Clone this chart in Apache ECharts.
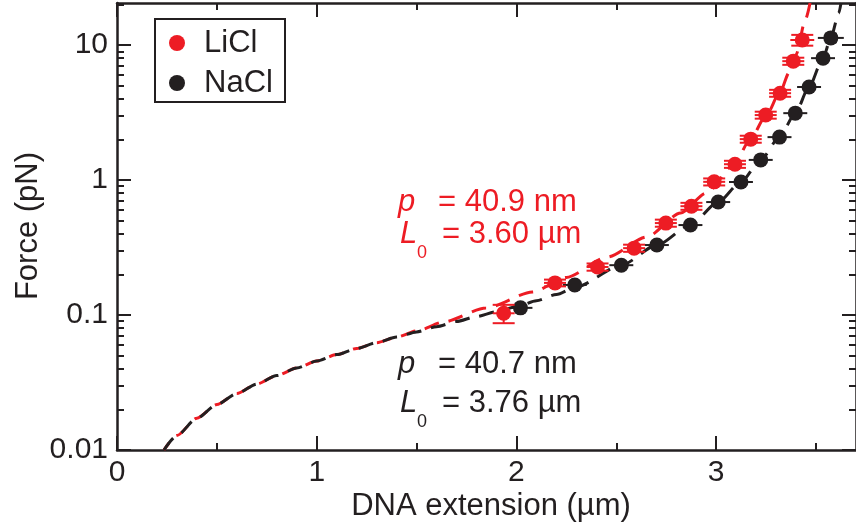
<!DOCTYPE html>
<html>
<head>
<meta charset="utf-8">
<script src="https://cdn.jsdelivr.net/npm/echarts@6/dist/echarts.min.js"></script>
<style>
  html, body { margin: 0; padding: 0; background: #ffffff; }
  #chart { width: 856px; height: 531px; }
</style>
</head>
<body>
<div id="chart"></div>
<script>
// Force–extension curves of DNA in LiCl and NaCl, with worm-like-chain fits.
const FONT = '"Liberation Sans", Arial, Helvetica, sans-serif';
const RED = '#ED1C24';
const BLACK = '#231F20';

// LiCl measurements: extension (µm), force (pN) and their errors
const liclExt      = [1.936, 2.193, 2.406, 2.589, 2.748, 2.876, 2.990, 3.094, 3.173, 3.248, 3.320, 3.386, 3.431];
const liclForce    = [0.103, 0.173, 0.227, 0.313, 0.480, 0.640, 0.970, 1.310, 2.010, 3.030, 4.400, 7.600, 10.90];
const liclExtErr   = [0.055, 0.055, 0.055, 0.055, 0.055, 0.055, 0.055, 0.055, 0.055, 0.055, 0.055, 0.055, 0.060];
const liclForceErr = [0.016, 0.010, 0.014, 0.019, 0.029, 0.038, 0.058, 0.079, 0.120, 0.180, 0.260, 0.460, 1.000];

// NaCl measurements
const naclExt      = [2.020, 2.292, 2.525, 2.703, 2.871, 3.010, 3.124, 3.223, 3.317, 3.396, 3.465, 3.535, 3.574];
const naclForce    = [0.113, 0.167, 0.234, 0.330, 0.464, 0.687, 0.967, 1.410, 2.080, 3.130, 4.890, 8.000, 11.30];
const naclExtErr   = [0.060, 0.060, 0.060, 0.060, 0.060, 0.060, 0.060, 0.060, 0.060, 0.060, 0.060, 0.060, 0.065];
const naclForceErr = [0.004, 0.006, 0.008, 0.011, 0.016, 0.024, 0.034, 0.050, 0.070, 0.110, 0.170, 0.280, 0.800];

// WLC fit curves (extension µm, force pN)
const liclFitExt   = [0.235, 0.30, 0.40, 0.50, 0.60, 0.70, 0.80, 0.90, 1.00, 1.10, 1.20, 1.30, 1.40, 1.50, 1.634, 1.847, 2.08, 2.25, 2.455, 2.653, 2.822, 2.95, 3.09, 3.17, 3.25, 3.32, 3.366, 3.40, 3.446, 3.47];
const liclFitForce = [0.0100, 0.0128, 0.0172, 0.0217, 0.0262, 0.0308, 0.0356, 0.0405, 0.0456, 0.0509, 0.0565, 0.0624, 0.0686, 0.0762, 0.0887, 0.1127, 0.148, 0.190, 0.269, 0.379, 0.570, 0.800, 1.30, 2.00, 3.00, 4.50, 6.30, 8.50, 15.3, 20.5];
const naclFitExt   = [0.235, 0.30, 0.40, 0.50, 0.60, 0.70, 0.80, 0.90, 1.00, 1.10, 1.20, 1.30, 1.40, 1.50, 1.60, 1.70, 1.80, 1.90, 2.00, 2.10, 2.20, 2.30, 2.525, 2.703, 2.871, 3.01, 3.124, 3.223, 3.317, 3.396, 3.465, 3.535, 3.574, 3.614, 3.625];
const naclFitForce = [0.0100, 0.0128, 0.0172, 0.0217, 0.0262, 0.0308, 0.0356, 0.0405, 0.0456, 0.0509, 0.0565, 0.0624, 0.0686, 0.0750, 0.0820, 0.0895, 0.0975, 0.1060, 0.1150, 0.1275, 0.1420, 0.1620, 0.234, 0.330, 0.464, 0.687, 0.967, 1.41, 2.08, 3.13, 4.89, 8.00, 11.3, 17.3, 20.5];

// Axis ticks
const xMajorTicks = [0, 1, 2, 3];
const xMinorTicks = [0.5, 1.5, 2.5, 3.5];
const xMax = 3.7;
const yTickForces = [0.01, 0.1, 1, 10];
const yTickLabels = ['0.01', '0.1', '1', '10'];
const yMinForce = 0.01;
const yMaxForce = 20.5;

// Fit parameter annotations
const liclParams = { p: '40.9 nm', L0: '3.60 µm' };
const naclParams = { p: '40.7 nm', L0: '3.76 µm' };

// Force axis runs in log10 space
const lg = Math.log10;
const yMajor = yTickForces.map(lg);
const yMinor = [];
for (let d = -2; d <= 1; d++) {
  for (let k = 2; k <= 9; k++) {
    const v = lg(k * Math.pow(10, d));
    if (v <= lg(yMaxForce)) yMinor.push(v);
  }
}

const pointData = (xs, fs) => xs.map((x, i) => [x, lg(fs[i])]);
const errData = (xs, fs, ex, ef) => xs.map((x, i) => [x, lg(fs[i]), ex[i], lg(fs[i] - ef[i]), lg(fs[i] + ef[i])]);

// horizontal bar through the point plus vertical bar with wide caps
function errorBars(color, capHalf) {
  return function (params, api) {
    const x = api.value(0), y = api.value(1), ex = api.value(2);
    const lo = api.value(3), hi = api.value(4);
    const c = api.coord([x, y]);
    const l = api.coord([x - ex, y]);
    const r = api.coord([x + ex, y]);
    const t = api.coord([x, hi]);
    const b = api.coord([x, lo]);
    const style = { stroke: color, lineWidth: 2 };
    const seg = (x1, y1, x2, y2) => ({ type: 'line', shape: { x1, y1, x2, y2 }, style });
    return {
      type: 'group',
      children: [
        seg(l[0], c[1], r[0], c[1]),
        seg(c[0], t[1], c[0], b[1]),
        seg(c[0] - capHalf, t[1], c[0] + capHalf, t[1]),
        seg(c[0] - capHalf, b[1], c[0] + capHalf, b[1])
      ]
    };
  };
}

const axisLineStyle = { color: BLACK, width: 2.5 };
const tickStyle = { color: BLACK, width: 2 };

function xAxisDef(position, ticks, len, showLine, showLabel) {
  return {
    type: 'value', position, min: 0, max: xMax,
    axisLine: { show: showLine, onZero: false, lineStyle: axisLineStyle },
    axisTick: { show: true, inside: true, length: len, customValues: ticks, lineStyle: tickStyle },
    axisLabel: showLabel ? {
      show: true, customValues: xMajorTicks, margin: 8,
      fontSize: 30, fontFamily: FONT, color: BLACK,
      formatter: v => String(v)
    } : { show: false },
    splitLine: { show: false }
  };
}

function yAxisDef(position, ticks, len, showLine, showLabel) {
  return {
    type: 'value', position, min: lg(yMinForce), max: lg(yMaxForce),
    axisLine: { show: showLine, onZero: false, lineStyle: axisLineStyle },
    axisTick: { show: true, inside: true, length: len, customValues: ticks, lineStyle: tickStyle },
    axisLabel: showLabel ? {
      show: true, customValues: yMajor, margin: 9,
      fontSize: 30, fontFamily: FONT, color: BLACK,
      formatter: v => {
        let best = 0;
        yMajor.forEach((m, i) => { if (Math.abs(m - v) < Math.abs(yMajor[best] - v)) best = i; });
        return yTickLabels[best];
      }
    } : { show: false },
    splitLine: { show: false }
  };
}

const chart = echarts.init(document.getElementById('chart'), null, { renderer: 'canvas' });

const textBase = { fontFamily: FONT, fontSize: 31, verticalAlign: 'middle', align: 'left' };
function paramText(params, color, y1, y2, eqShift) {
  return [
    { type: 'text', x: 398, y: y1, style: Object.assign({}, textBase, { text: 'p', fontStyle: 'italic', fill: color }) },
    { type: 'text', x: 438, y: y1, style: Object.assign({}, textBase, { text: '= ' + params.p, fill: color }) },
    { type: 'text', x: 400, y: y2, style: Object.assign({}, textBase, { text: 'L', fontStyle: 'italic', fill: color }) },
    { type: 'text', x: 417, y: y2 + 19, style: Object.assign({}, textBase, { text: '0', fontSize: 18, fill: color }) },
    { type: 'text', x: 438 + eqShift, y: y2, style: Object.assign({}, textBase, { text: '= ' + params.L0, fill: color }) }
  ];
}

chart.setOption({
  animation: false,
  backgroundColor: '#ffffff',
  grid: { left: 117, right: -8, top: 3, bottom: 81, containLabel: false },
  xAxis: [
    xAxisDef('bottom', xMajorTicks, 14, true, true),
    xAxisDef('bottom', xMinorTicks, 7, false, false),
    xAxisDef('top', xMajorTicks, 14, true, false),
    xAxisDef('top', xMinorTicks, 7, false, false)
  ],
  yAxis: [
    yAxisDef('left', yMajor, 14, true, true),
    yAxisDef('left', yMinor, 7, false, false),
    yAxisDef('right', yMajor, 14, true, false),
    yAxisDef('right', yMinor, 7, false, false)
  ],
  series: [
    {
      name: 'LiCl fit', type: 'line', data: pointData(liclFitExt, liclFitForce),
      showSymbol: false, smooth: 0.25, smoothMonotone: 'x', clip: true, z: 2,
      lineStyle: { color: RED, width: 3, type: [15, 10], dashOffset: 6 }
    },
    {
      name: 'NaCl fit', type: 'line', data: pointData(naclFitExt, naclFitForce),
      showSymbol: false, smooth: 0.25, smoothMonotone: 'x', clip: true, z: 3,
      lineStyle: { color: BLACK, width: 3, type: [15, 10] }
    },
    {
      name: 'NaCl err', type: 'custom', renderItem: errorBars(BLACK, 6),
      data: errData(naclExt, naclForce, naclExtErr, naclForceErr), z: 4, silent: true
    },
    {
      name: 'NaCl', type: 'scatter', data: pointData(naclExt, naclForce),
      symbol: 'circle', symbolSize: 15, itemStyle: { color: BLACK, opacity: 1 }, z: 5
    },
    {
      name: 'LiCl err', type: 'custom', renderItem: errorBars(RED, 11),
      data: errData(liclExt, liclForce, liclExtErr, liclForceErr), z: 6, silent: true
    },
    {
      name: 'LiCl', type: 'scatter', data: pointData(liclExt, liclForce),
      symbol: 'circle', symbolSize: 15, itemStyle: { color: RED, opacity: 1 }, z: 7
    }
  ],
  graphic: [
    // axis titles
    { type: 'text', x: 491, y: 506, style: { text: 'DNA extension (µm)', fontFamily: FONT, fontSize: 31, fill: BLACK, align: 'center', verticalAlign: 'middle' } },
    { type: 'text', x: 28, y: 226, rotation: Math.PI / 2, style: { text: 'Force (pN)', fontFamily: FONT, fontSize: 31, fill: BLACK, align: 'center', verticalAlign: 'middle' } },
    // legend
    { type: 'rect', shape: { x: 155, y: 19, width: 130, height: 83 }, style: { fill: '#ffffff', stroke: BLACK, lineWidth: 2 }, z: 10 },
    { type: 'circle', shape: { cx: 177, cy: 43, r: 8 }, style: { fill: RED }, z: 11 },
    { type: 'circle', shape: { cx: 177, cy: 83, r: 8 }, style: { fill: BLACK }, z: 11 },
    { type: 'text', x: 204, y: 43, style: Object.assign({}, textBase, { text: 'LiCl', fill: BLACK }), z: 11 },
    { type: 'text', x: 204, y: 83, style: Object.assign({}, textBase, { text: 'NaCl', fill: BLACK }), z: 11 }
  ]
    .concat(paramText(liclParams, RED, 202, 234, 4))
    .concat(paramText(naclParams, BLACK, 364, 403, 4))
});
</script>
</body>
</html>
